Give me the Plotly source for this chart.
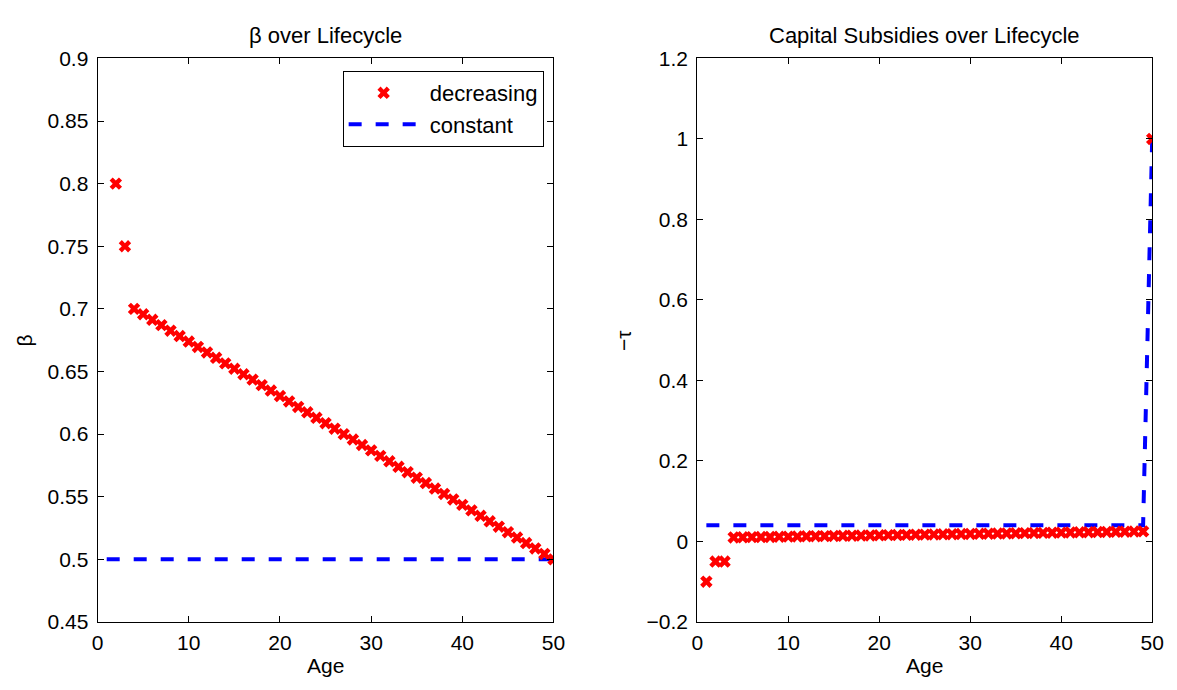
import plotly.graph_objects as go

# ---------------- data ----------------
ages_beta = list(range(2, 51))
beta_decreasing = [0.80, 0.75, 0.7000, 0.6957, 0.6913, 0.6870, 0.6826, 0.6783, 0.6739, 0.6696,
                   0.6652, 0.6609, 0.6565, 0.6522, 0.6478, 0.6435, 0.6391, 0.6348, 0.6304,
                   0.6261, 0.6217, 0.6174, 0.6130, 0.6087, 0.6043, 0.6000, 0.5957, 0.5913,
                   0.5870, 0.5826, 0.5783, 0.5739, 0.5696, 0.5652, 0.5609, 0.5565, 0.5522,
                   0.5478, 0.5435, 0.5391, 0.5348, 0.5304, 0.5261, 0.5217, 0.5174, 0.5130,
                   0.5087, 0.5043, 0.5000]
ages_beta_const = [1, 50]
beta_constant = [0.5, 0.5]

ages_tau = list(range(1, 51))
tau_decreasing = [-0.10, -0.05, -0.05, 0.0100, 0.0103, 0.0107, 0.0110, 0.0113, 0.0117, 0.0120,
                  0.0123, 0.0127, 0.0130, 0.0133, 0.0137, 0.0140, 0.0143, 0.0147, 0.0150,
                  0.0153, 0.0157, 0.0160, 0.0163, 0.0167, 0.0170, 0.0173, 0.0177, 0.0180,
                  0.0183, 0.0187, 0.0190, 0.0193, 0.0197, 0.0200, 0.0203, 0.0207, 0.0210,
                  0.0213, 0.0217, 0.0220, 0.0223, 0.0227, 0.0230, 0.0233, 0.0237, 0.0240,
                  0.0243, 0.0247, 0.0250, 1.0]
ages_tau_const = [1, 49, 50]
tau_constant = [0.04, 0.04, 1.0]

x_ticks = [0, 10, 20, 30, 40, 50]
beta_ticks = [0.45, 0.5, 0.55, 0.6, 0.65, 0.7, 0.75, 0.8, 0.85, 0.9]
tau_ticks = [-0.2, 0, 0.2, 0.4, 0.6, 0.8, 1.0, 1.2]
tau_tick_labels = ["\u22120.2", "0", "0.2", "0.4", "0.6", "0.8", "1", "1.2"]

# ---------------- figure ----------------
W, H = 1177, 690
FONT = "Liberation Sans, Arial, Helvetica, sans-serif"
RED = "#ff0000"
BLUE = "#0000ff"
DASH = "13px,14px"
FS = 21

fig = go.Figure()

# left panel
fig.add_trace(go.Scatter(x=ages_beta_const, y=beta_constant, mode="lines",
                         name="\u00a0constant",
                         line=dict(color=BLUE, width=4, dash=DASH), xaxis="x", yaxis="y",
                         legendrank=2))
fig.add_trace(go.Scatter(x=ages_beta, y=beta_decreasing, mode="markers",
                         name="\u00a0decreasing",
                         marker=dict(symbol="x", size=11, color=RED, line=dict(width=0)),
                         xaxis="x", yaxis="y", legendrank=1))

# right panel
fig.add_trace(go.Scatter(x=ages_tau_const, y=tau_constant, mode="lines", showlegend=False,
                         line=dict(color=BLUE, width=4, dash=DASH), xaxis="x2", yaxis="y2"))
fig.add_trace(go.Scatter(x=ages_tau, y=tau_decreasing, mode="markers", showlegend=False,
                         marker=dict(symbol="x", size=11, color=RED, line=dict(width=0)),
                         xaxis="x2", yaxis="y2"))

ydom = [(H - 631) / H, (H - 48) / H]
xdom1 = [93 / W, 556 / W]
xdom2 = [702 / W, 1164 / W]

axis_common = dict(showline=True, linecolor="black", linewidth=1, mirror="allticks",
                   ticks="inside", ticklen=6, tickwidth=1, tickcolor="black",
                   showgrid=False, zeroline=False,
                   tickfont=dict(family=FONT, size=FS, color="black"))

fig.update_layout(
    width=W, height=H,
    margin=dict(l=0, r=0, t=0, b=0),
    paper_bgcolor="white", plot_bgcolor="white",
    font=dict(family=FONT, size=FS, color="black"),
    xaxis=dict(domain=xdom1, range=[0, 50], tickvals=x_ticks, anchor="y",
               ticklabelstandoff=2, **axis_common),
    yaxis=dict(domain=ydom, range=[0.45, 0.9], tickvals=beta_ticks, anchor="x",
               ticklabelstandoff=4, **axis_common),
    xaxis2=dict(domain=xdom2, range=[0, 50], tickvals=x_ticks, anchor="y2",
                ticklabelstandoff=2, **axis_common),
    yaxis2=dict(domain=ydom, range=[-0.2, 1.2], tickvals=tau_ticks, ticktext=tau_tick_labels,
                anchor="x2", ticklabelstandoff=4, **axis_common),
    legend=dict(x=546 / W, xanchor="right", y=(H - 61) / H, yanchor="top",
                bgcolor="white", bordercolor="black", borderwidth=1,
                font=dict(family=FONT, size=22, color="black"),
                itemwidth=70, tracegroupgap=0),
    showlegend=True,
)

annotations = [
    dict(text="\u03b2 over Lifecycle", x=(xdom1[0] + xdom1[1]) / 2, y=(H - 24) / H,
         font=dict(size=22)),
    dict(text="Capital Subsidies over Lifecycle", x=(xdom2[0] + xdom2[1]) / 2, y=(H - 24) / H,
         font=dict(size=22)),
    dict(text="Age", x=(xdom1[0] + xdom1[1]) / 2, y=(H - 676) / H, font=dict(size=FS)),
    dict(text="Age", x=(xdom2[0] + xdom2[1]) / 2, y=(H - 676) / H, font=dict(size=FS)),
    dict(text="\u03b2", x=19 / W, y=(H - 340) / H, textangle=-90, font=dict(size=FS)),
    dict(text="\u2212\u03c4", x=627 / W, y=(H - 340) / H, textangle=-90, font=dict(size=FS)),
]
for a in annotations:
    a.update(xref="paper", yref="paper", showarrow=False, xanchor="center", yanchor="middle")
    a["font"].update(family=FONT, color="black")
fig.update_layout(annotations=annotations)

fig.write_html("out.html")
